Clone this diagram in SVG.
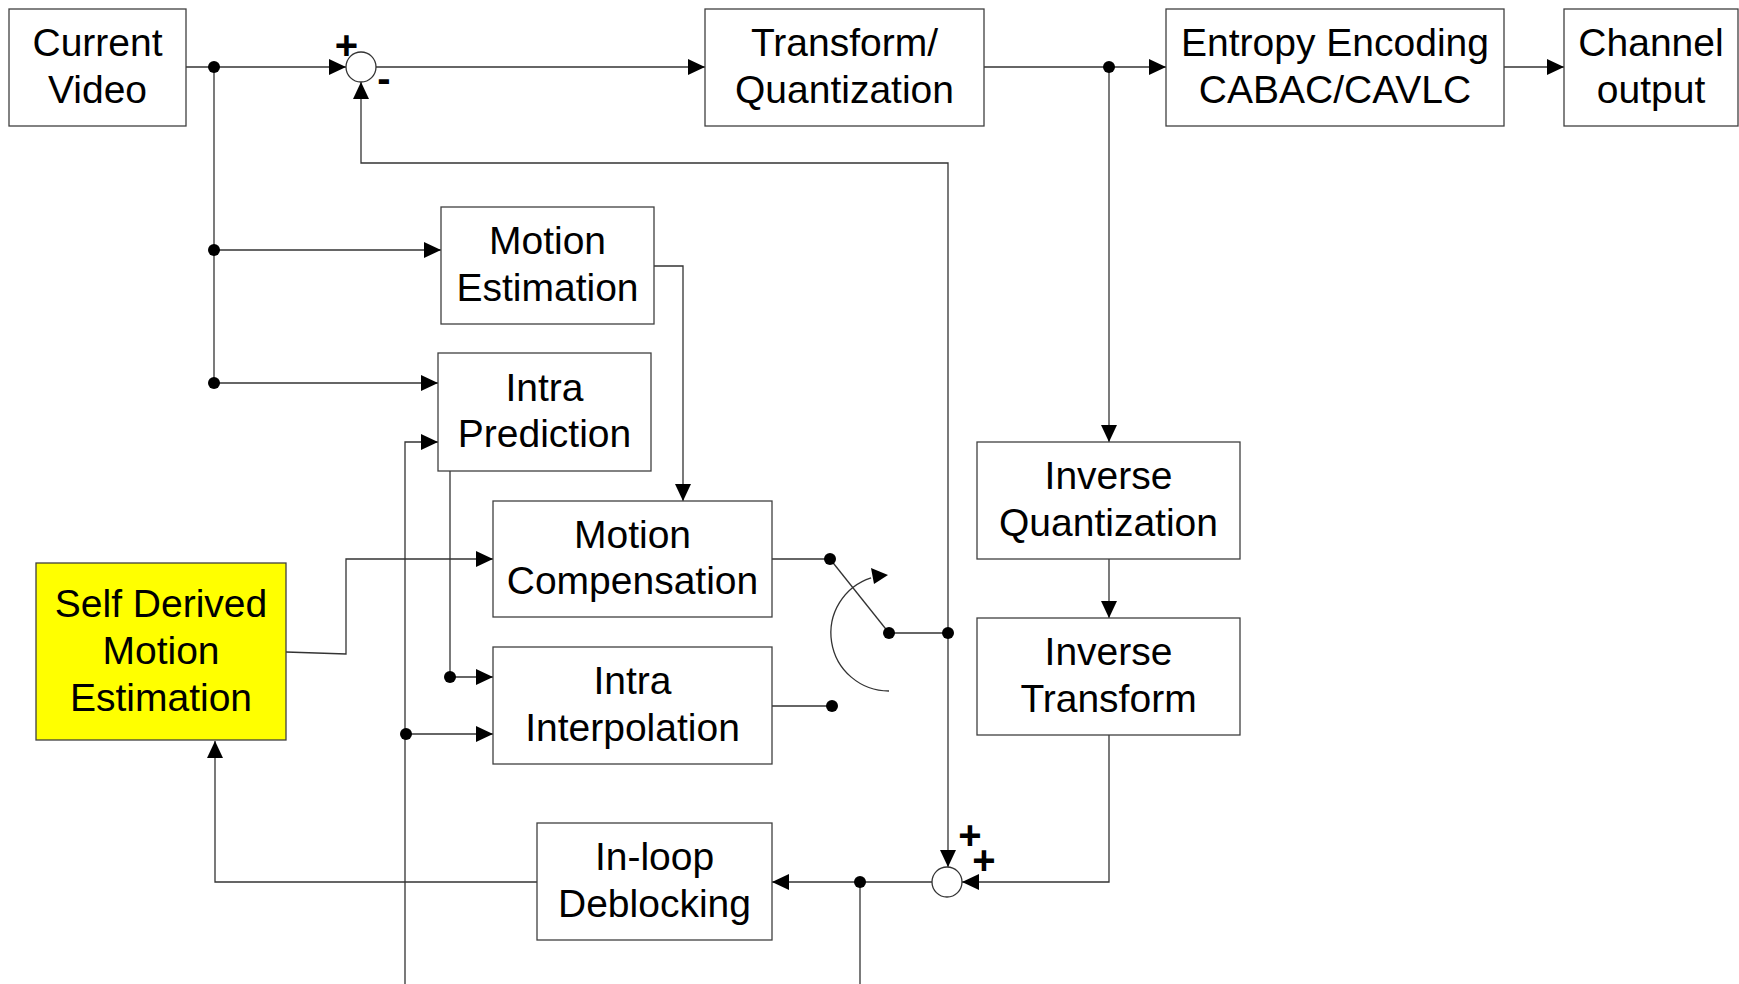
<svg xmlns="http://www.w3.org/2000/svg" width="1739" height="984" viewBox="0 0 1739 984">
<defs>
<marker id="arr" markerUnits="userSpaceOnUse" viewBox="0 0 17 16" refX="17" refY="8" markerWidth="17" markerHeight="16" orient="auto">
<path d="M0,0 L17,8 L0,16 z" fill="#000"/>
</marker>
<style>
.box{fill:#fff;stroke:#404040;stroke-width:1.3}
.t{font-family:"Liberation Sans",Arial,sans-serif;font-size:39px;fill:#000;text-anchor:middle}
.ln{fill:none;stroke:#333;stroke-width:1.3}
.a{marker-end:url(#arr)}
.dot{fill:#000}
.sign{font-family:"Liberation Sans",Arial,sans-serif;font-size:40px;font-weight:bold;fill:#000;text-anchor:middle}
.sum{fill:#fff;stroke:#333;stroke-width:1.3}
</style>
</defs>
<rect width="1739" height="984" fill="#fff"/>

<g id="connectors">
<path class="ln a" d="M186,67 H346"/>
<path class="ln" d="M214,67 V383"/>
<path class="ln a" d="M214,250 H441"/>
<path class="ln a" d="M214,383 H438"/>
<path class="ln a" d="M376,67 H705"/>
<path class="ln a" d="M984,67 H1166"/>
<path class="ln a" d="M1504,67 H1564"/>
<path class="ln a" d="M1109,67 V442"/>
<path class="ln a" d="M1109,559 V618"/>
<path class="ln a" d="M1109,735 V882 H962"/>
<path class="ln a" d="M948,633 V163 H361 V82"/>
<path class="ln a" d="M948,633 V867"/>
<path class="ln" d="M889,633 H948"/>
<path class="ln" d="M830,559 L889,633"/>
<path class="ln" d="M772,559 H830"/>
<path class="ln" d="M772,706 H832"/>
<path class="ln" d="M889,691 A58,58 0 0 1 871.1,577.8"/>
<polygon points="871,568 888,575 874,584" fill="#000"/>
<path class="ln a" d="M654,266 H683 V501"/>
<path class="ln" d="M450,471 V677"/>
<path class="ln a" d="M450,677 H493"/>
<path class="ln a" d="M405,984 V442 H438"/>
<path class="ln a" d="M405,734 H493"/>
<path class="ln a" d="M286,652 L346,654 V559 H493"/>
<path class="ln a" d="M932,882 H772"/>
<path class="ln" d="M860,882 V984"/>
<path class="ln a" d="M537,882 H215 V741"/>
<circle class="dot" cx="214" cy="67" r="6"/>
<circle class="dot" cx="214" cy="250" r="6"/>
<circle class="dot" cx="214" cy="383" r="6"/>
<circle class="dot" cx="1109" cy="67" r="6"/>
<circle class="dot" cx="830" cy="559" r="6"/>
<circle class="dot" cx="889" cy="633" r="6"/>
<circle class="dot" cx="948" cy="633" r="6"/>
<circle class="dot" cx="832" cy="706" r="6"/>
<circle class="dot" cx="450" cy="677" r="6"/>
<circle class="dot" cx="406" cy="734" r="6"/>
<circle class="dot" cx="860" cy="882" r="6"/>
</g>

<g id="sum1">
<circle class="sum" cx="361" cy="67" r="15"/>
<text class="sign" x="346.5" y="59">+</text>
<text class="sign" x="384" y="92">-</text>
</g>
<g id="sum2">
<circle class="sum" cx="947" cy="882" r="15"/>
<text class="sign"><tspan x="970" y="848.5">+</tspan><tspan x="984" y="873.5">+</tspan></text>
</g>

<g id="current-video">
<rect class="box" x="9" y="9" width="177" height="117"/>
<text class="t" x="97.5" y="56">Current</text>
<text class="t" x="97.5" y="102.5">Video</text>
</g>
<g id="transform">
<rect class="box" x="705" y="9" width="279" height="117"/>
<text class="t" x="844.5" y="56">Transform/</text>
<text class="t" x="844.5" y="102.5">Quantization</text>
</g>
<g id="entropy">
<rect class="box" x="1166" y="9" width="338" height="117"/>
<text class="t" x="1335" y="56">Entropy Encoding</text>
<text class="t" x="1335" y="102.5">CABAC/CAVLC</text>
</g>
<g id="channel">
<rect class="box" x="1564" y="9" width="174" height="117"/>
<text class="t" x="1651" y="56">Channel</text>
<text class="t" x="1651" y="102.5">output</text>
</g>
<g id="motion-estimation">
<rect class="box" x="441" y="207" width="213" height="117"/>
<text class="t" x="547.5" y="254">Motion</text>
<text class="t" x="547.5" y="300.5">Estimation</text>
</g>
<g id="intra-prediction">
<rect class="box" x="438" y="353" width="213" height="118"/>
<text class="t" x="544.5" y="400.5">Intra</text>
<text class="t" x="544.5" y="447">Prediction</text>
</g>
<g id="motion-compensation">
<rect class="box" x="493" y="501" width="279" height="116"/>
<text class="t" x="632.5" y="547.5">Motion</text>
<text class="t" x="632.5" y="594">Compensation</text>
</g>
<g id="intra-interpolation">
<rect class="box" x="493" y="647" width="279" height="117"/>
<text class="t" x="632.5" y="694">Intra</text>
<text class="t" x="632.5" y="740.5">Interpolation</text>
</g>
<g id="self-derived">
<rect x="36" y="563" width="250" height="177" fill="#ffff00" stroke="#404040" stroke-width="1.3"/>
<text class="t" x="161" y="617">Self Derived</text>
<text class="t" x="161" y="664">Motion</text>
<text class="t" x="161" y="711">Estimation</text>
</g>
<g id="inverse-quantization">
<rect class="box" x="977" y="442" width="263" height="117"/>
<text class="t" x="1108.5" y="489">Inverse</text>
<text class="t" x="1108.5" y="535.5">Quantization</text>
</g>
<g id="inverse-transform">
<rect class="box" x="977" y="618" width="263" height="117"/>
<text class="t" x="1108.5" y="665">Inverse</text>
<text class="t" x="1108.5" y="711.5">Transform</text>
</g>
<g id="inloop">
<rect class="box" x="537" y="823" width="235" height="117"/>
<text class="t" x="654.5" y="870">In-loop</text>
<text class="t" x="654.5" y="916.5">Deblocking</text>
</g>
</svg>
